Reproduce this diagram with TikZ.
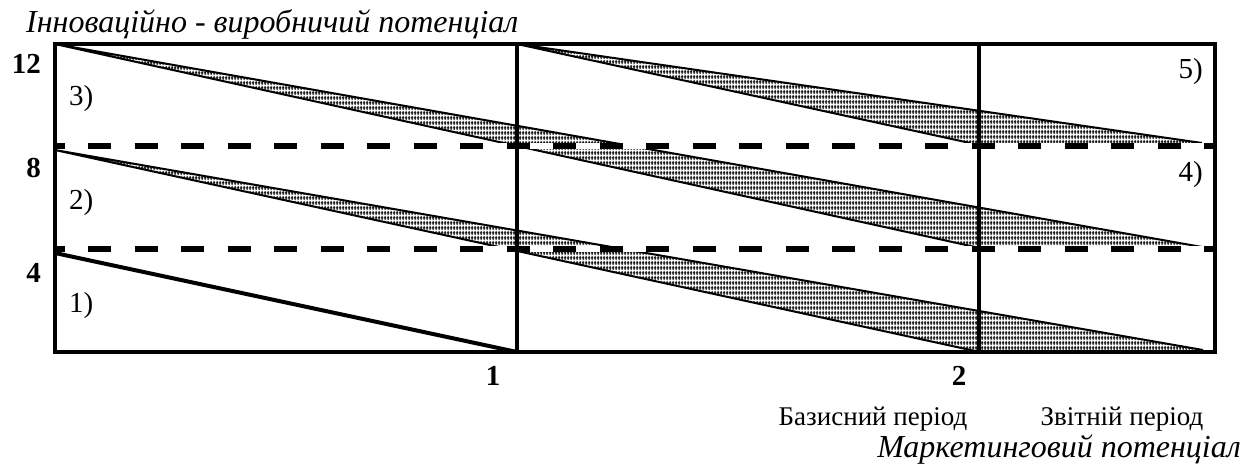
\documentclass[tikz,border=0pt]{standalone}
\usepackage{fontspec}
\setmainfont{Liberation Serif}
\usetikzlibrary{patterns}
\pgfdeclarepatternformonly{cellhatch}{\pgfpointorigin}{\pgfpoint{3pt}{5pt}}{\pgfpoint{3pt}{5pt}}{%
  \pgfsetlinewidth{1.1pt}%
  \pgfpathmoveto{\pgfpoint{1.5pt}{0pt}}\pgfpathlineto{\pgfpoint{1.5pt}{5pt}}%
  \pgfpathmoveto{\pgfpoint{0pt}{2.5pt}}\pgfpathlineto{\pgfpoint{3pt}{2.5pt}}%
  \pgfusepath{stroke}}
\tikzset{
  framel/.style={line width=4pt},
  bandfill/.style={pattern=cellhatch},
  bandedge/.style={line width=2pt},
  levelline/.style={line width=6pt, dash pattern=on 23pt off 23.5pt, dash phase=13.5pt},
  whitestrip/.style={line width=6pt, white},
  ticklab/.style={font=\fontsize{29}{31}\selectfont\bfseries, inner sep=0pt},
  zonelab/.style={font=\fontsize{29}{31}\selectfont, inner sep=0pt},
  axislab/.style={font=\fontsize{32}{34}\selectfont\itshape, inner sep=0pt},
  perlab/.style={font=\fontsize{27}{29}\selectfont, inner sep=0pt},
}
\begin{document}
\begin{tikzpicture}[x=1pt,y=-1pt]
\useasboundingbox (0,0) rectangle (1244,464);
% key points
\coordinate (TL) at (55,44);
\coordinate (TM) at (517,44);
\coordinate (TR) at (1215,44);
\coordinate (BL) at (55,352);
\coordinate (BR) at (1215,352);
\coordinate (S2) at (55,150);
\coordinate (S1) at (55,253);
\coordinate (E1) at (517,352);
\coordinate (A5) at (1202,143);
\coordinate (B5) at (970,143);
\coordinate (A3) at (1202,247);
\coordinate (B3) at (975,247);
\coordinate (A2) at (1203,350);
\coordinate (B2) at (975,351);
% hatched bands
\fill[bandfill] (TM) -- (A5) -- (B5) -- cycle;
\fill[bandfill] (TL) -- (A3) -- (B3) -- cycle;
\fill[bandfill] (S2) -- (A2) -- (B2) -- cycle;
\draw[bandedge] (TM) -- (A5) (TM) -- (B5);
\draw[bandedge] (TL) -- (A3) (TL) -- (B3);
\draw[bandedge] (S2) -- (A2) (S2) -- (B2);
% level lines
\coordinate (L8a) at (55,146); \coordinate (L8b) at (1215,146);
\coordinate (L4a) at (55,249); \coordinate (L4b) at (1215,249);
\draw[whitestrip] (L8a) -- (L8b);
\draw[whitestrip] (L4a) -- (L4b);
\draw[levelline] (L8a) -- (L8b);
\draw[levelline] (L4a) -- (L4b);
% line 1)
\draw[framel] (S1) -- (E1);
% frame and dividers
\draw[framel] (TL) rectangle (BR);
\draw[framel] (TM) -- (E1);
\coordinate (T2) at (979,44); \coordinate (B2v) at (979,352);
\draw[framel] (T2) -- (B2v);
% labels
\node[axislab, anchor=base west] (title) at (26,32) {Інноваційно - виробничий потенціал};
\node[ticklab, anchor=base east] (n12) at (41,73) {12};
\node[ticklab, anchor=base east] (n8) at (41,177) {8};
\node[ticklab, anchor=base east] (n4) at (41,282) {4};
\node[zonelab, anchor=base west] (z3) at (69,105) {3)};
\node[zonelab, anchor=base west] (z2) at (69,209) {2)};
\node[zonelab, anchor=base west] (z1) at (69,312) {1)};
\node[zonelab, anchor=base east] (z5) at (1203,78) {5)};
\node[zonelab, anchor=base east] (z4) at (1203,181) {4)};
\node[ticklab, anchor=base] (x1) at (493,385) {1};
\node[ticklab, anchor=base] (x2) at (959,385) {2};
\node[perlab, anchor=base] (base) at (873,425) {Базисний період};
\node[perlab, anchor=base] (rep) at (1122,425) {Звітній період};
\node[axislab, anchor=base east] (mkt) at (1241,457) {Маркетинговий потенціал};
\end{tikzpicture}
\end{document}
